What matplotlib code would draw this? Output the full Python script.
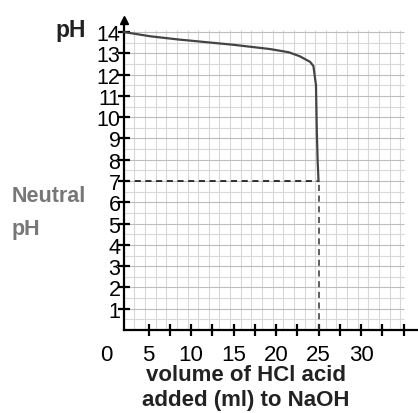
import matplotlib.pyplot as plt
import numpy as np

plt.rcParams['font.family'] = ['Liberation Sans', 'DejaVu Sans']

# titration curve
volume_ml = [2.1, 5.2, 8.5, 11.1, 15.0, 19.3, 21.5, 22.8, 24.0, 24.4, 24.7, 24.8, 24.9, 25.0]
ph_values = [14.0, 13.8, 13.65, 13.55, 13.4, 13.2, 13.05, 12.86, 12.6, 12.4, 11.5, 9.3, 7.9, 7.0]

x_tick_labels = [0, 5, 10, 15, 20, 25, 30]
y_tick_labels = list(range(1, 15))
neutral_ph = 7
equivalence_ml = 25

x_axis_start = 2.1   # y axis sits a little right of 0 ml
x_max = 36.7
y_max = 14.8

fig = plt.figure(figsize=(4.18, 4.14), dpi=100)
ax = fig.add_axes([106 / 418, 83 / 414, 312 / 418, 315 / 414])
ax.set_xlim(0, x_max)
ax.set_ylim(0, y_max)

# grid paper
grid_right = 35.1
grid_top = 14.1
for v in np.arange(x_axis_start + 1.25, grid_right + 0.01, 1.25):
    strong = abs((v / 2.5) - round(v / 2.5)) < 0.01
    ax.vlines(v, 0, grid_top, color='#bdbdbd' if strong else '#d8d8d8', lw=0.8, zorder=1)
for h in np.arange(0.5, grid_top + 0.01, 0.5):
    strong = abs(h - round(h)) < 0.01
    ax.hlines(h, x_axis_start, grid_right, color='#bdbdbd' if strong else '#d8d8d8', lw=0.8, zorder=1)

# curve
ax.plot(volume_ml, ph_values, color='#444444', lw=1.6, zorder=4)

# dashed neutral lines
ax.plot([x_axis_start, equivalence_ml], [neutral_ph, neutral_ph], color='black', lw=1.1,
        ls=(0, (4, 3)), zorder=3)
ax.plot([equivalence_ml, equivalence_ml], [0, neutral_ph], color='#333333', lw=1.1,
        ls=(0, (4, 3)), zorder=3)

# spines
for side in ['top', 'right']:
    ax.spines[side].set_visible(False)
ax.spines['left'].set_position(('data', x_axis_start))
ax.spines['left'].set_bounds(0, y_max - 0.3)
ax.spines['bottom'].set_bounds(x_axis_start, x_max)
ax.spines['left'].set_linewidth(1.6)
ax.spines['bottom'].set_linewidth(1.6)
ax.plot([x_axis_start], [y_max - 0.25], marker='^', color='black', markersize=6,
        clip_on=False, zorder=5)

# ticks
ax.set_yticks(y_tick_labels)
ax.set_yticklabels([str(t) for t in y_tick_labels])
ax.tick_params(axis='y', direction='inout', length=9, width=1.6, pad=-2, labelsize=15.5)

ax.set_xticks(x_tick_labels)
ax.set_xticklabels([str(t) for t in x_tick_labels])
ax.set_xticks(np.arange(5, 35.1, 2.5), minor=True)
ax.xaxis.remove_overlapping_locs = False
ax.tick_params(axis='x', which='major', length=0, pad=10, labelsize=16)
ax.tick_params(axis='x', which='minor', direction='inout', length=9, width=1.6)

# labels
fig.text(71 / 418, 1 - 31 / 414, 'pH', fontsize=16.5, fontweight='bold', color='#222222',
         ha='center', va='center')
fig.text(12 / 418, 1 - 213 / 414, 'Neutral\npH', fontsize=15.5, fontweight='bold',
         color='#777777', ha='left', va='center', linespacing=1.75)
fig.text(246 / 418, 1 - 388 / 414, 'volume of HCl acid\nadded (ml) to NaOH', fontsize=16,
         fontweight='bold', color='#222222', ha='center', va='center', linespacing=1.25)

fig.savefig('out.png', dpi=100)
